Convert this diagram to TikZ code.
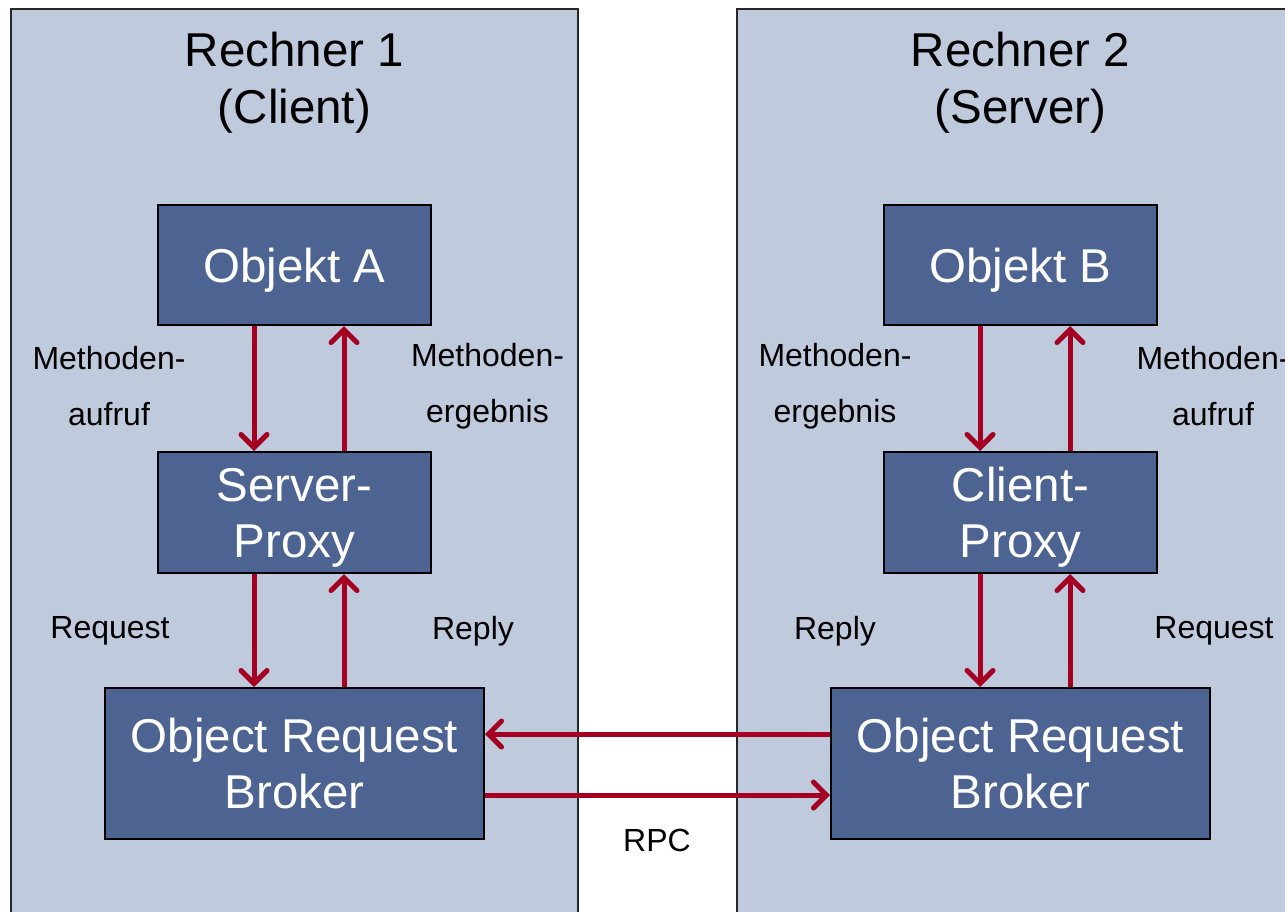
\documentclass[tikz,border=0pt]{standalone}
\usepackage{fontspec}
\setmainfont{Liberation Sans}
\usetikzlibrary{arrows.meta}
\definecolor{panelfill}{HTML}{BFCADD}
\definecolor{boxfill}{HTML}{4D6492}
\definecolor{flowred}{HTML}{A50021}
\tikzset{
  panel/.style={draw=black!85, line width=2pt, fill=panelfill},
  compbox/.style={draw=black, line width=2pt, fill=boxfill, text=white,
    align=center, inner sep=0pt, text depth=0pt, font=\fontsize{47.5}{56}\selectfont},
  heading/.style={align=center, inner sep=0pt, font=\fontsize{47.5}{57}\selectfont},
  lbl/.style={align=center, inner sep=0pt, font=\fontsize{32}{56}\selectfont},
  flow/.style={draw=flowred, line width=5pt,
    -{Straight Barb[length=13pt, width=26pt, line width=5pt, line cap=round]}},
}
\begin{document}
\begin{tikzpicture}[x=1pt, y=-1pt]
\useasboundingbox (0,0) rectangle (1285,911);
\begin{scope}
\clip (0,0) rectangle (1285,911);
% computer frames
\draw[panel] (11,9) rectangle (578,930);
\draw[panel] (737,9) rectangle (1300,930);
\end{scope}

% headings
\node[heading] (h1) at (294.5,83) {Rechner 1\\(Client)};
\node[heading] (h2) at (1020.5,83) {Rechner 2\\(Server)};

% left computer
\node[compbox, minimum width=273pt, minimum height=120pt] (objA) at (294.5,265) {Objekt A};
\node[compbox, minimum width=273pt, minimum height=121pt] (sproxy) at (294.5,512.5) {Server-\\Proxy};
\node[compbox, minimum width=379pt, minimum height=151pt] (orbL) at (294.5,763.5) {Object Request\\Broker};

% right computer
\node[compbox, minimum width=273pt, minimum height=120pt] (objB) at (1020.5,265) {Objekt B};
\node[compbox, minimum width=273pt, minimum height=121pt] (cproxy) at (1020.5,512.5) {Client-\\Proxy};
\node[compbox, minimum width=379pt, minimum height=151pt] (orbR) at (1020.5,763.5) {Object Request\\Broker};

% vertical lanes
\coordinate (l1) at (254,0);
\coordinate (l2) at (344,0);
\coordinate (r1) at (980,0);
\coordinate (r2) at (1070,0);
\coordinate (rpcA) at (0,734);
\coordinate (rpcB) at (0,795);

\draw[flow] (objA.south -| l1) -- (sproxy.north -| l1);
\draw[flow] (sproxy.north -| l2) -- (objA.south -| l2);
\draw[flow] (sproxy.south -| l1) -- (orbL.north -| l1);
\draw[flow] (orbL.north -| l2) -- (sproxy.south -| l2);

\draw[flow] (objB.south -| r1) -- (cproxy.north -| r1);
\draw[flow] (cproxy.north -| r2) -- (objB.south -| r2);
\draw[flow] (cproxy.south -| r1) -- (orbR.north -| r1);
\draw[flow] (orbR.north -| r2) -- (cproxy.south -| r2);

\draw[flow] (orbR.west |- rpcA) -- (orbL.east |- rpcA);
\draw[flow] (orbL.east |- rpcB) -- (orbR.west |- rpcB);

% labels
\node[lbl] (m1) at (109,386) {Methoden-\\aufruf};
\node[lbl] (m2) at (487.5,386) {Methoden-\\ergebnis};
\node[lbl] (m3) at (835,386) {Methoden-\\ergebnis};
\node[lbl] (m4) at (1213,386) {Methoden-\\aufruf};
\node[lbl] (q1) at (110,631) {Request};
\node[lbl] (p1) at (473,631) {Reply};
\node[lbl] (p2) at (835,631) {Reply};
\node[lbl] (q2) at (1214,631) {Request};
\node[lbl] (rpc) at (657,840) {RPC};
\end{tikzpicture}
\end{document}
